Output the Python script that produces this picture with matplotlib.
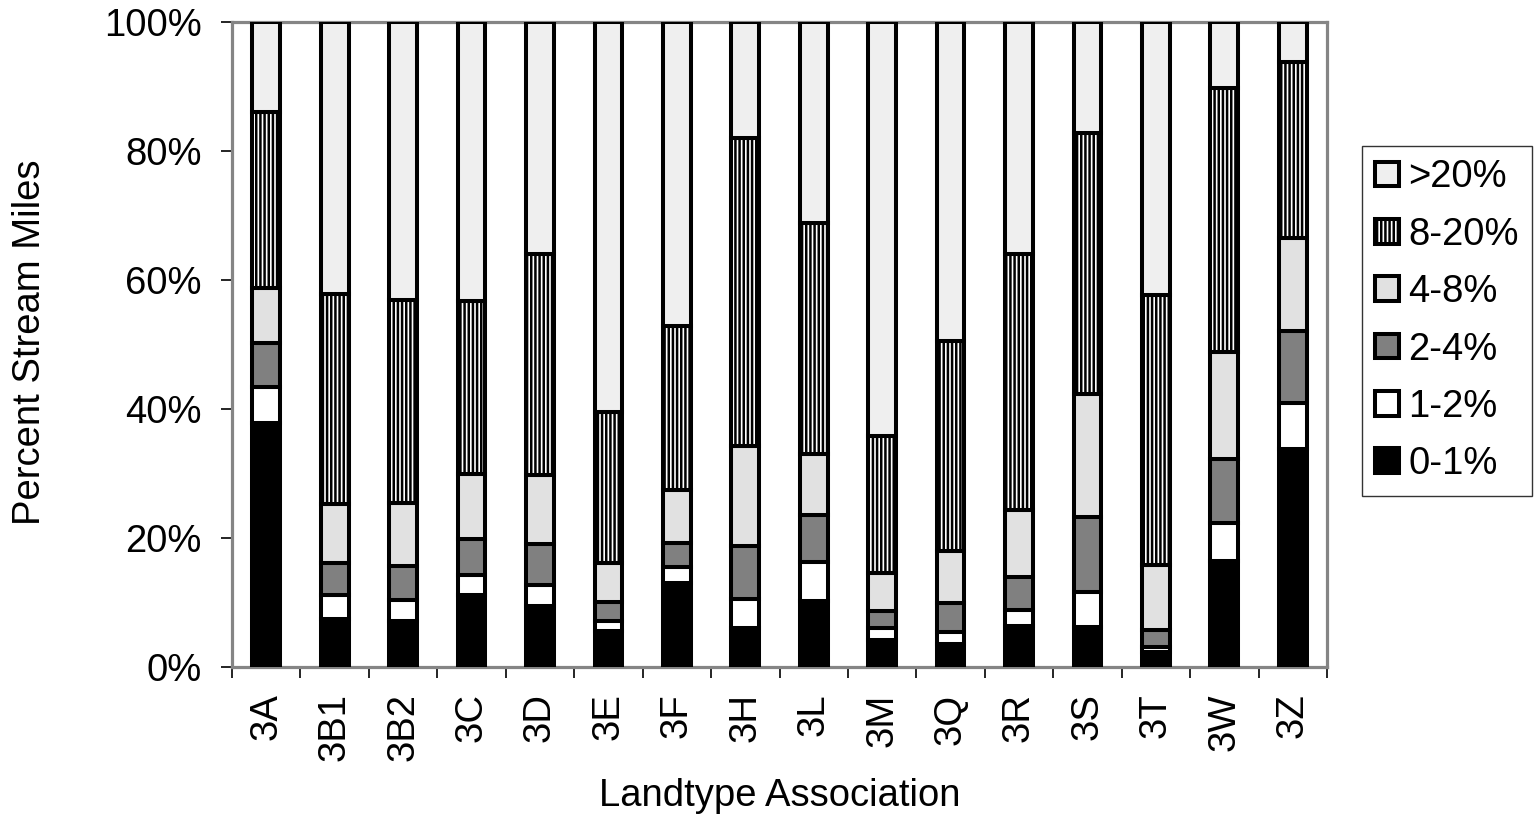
import matplotlib
matplotlib.use("Agg")
import matplotlib.pyplot as plt
import numpy as np

plt.rcParams['font.family'] = ['Liberation Sans', 'DejaVu Sans']
plt.rcParams['hatch.linewidth'] = 1.8

categories = ["3A", "3B1", "3B2", "3C", "3D", "3E", "3F", "3H",
              "3L", "3M", "3Q", "3R", "3S", "3T", "3W", "3Z"]

# percent of stream miles in each gradient class
grad_0_1 = [37.9, 7.4, 7.1, 11.1, 9.4, 5.6, 13.1, 6.0, 10.3, 4.2, 3.6, 6.4, 6.2, 2.3, 16.4, 33.8]
grad_1_2 = [5.5, 3.8, 3.3, 3.2, 3.3, 1.5, 2.4, 4.5, 6.0, 1.8, 1.9, 2.5, 5.5, 0.8, 6.0, 7.1]
grad_2_4 = [6.8, 4.9, 5.3, 5.5, 6.3, 3.0, 3.7, 8.2, 7.2, 2.7, 4.4, 5.0, 11.6, 2.7, 9.8, 11.2]
grad_4_8 = [8.6, 9.2, 9.7, 10.2, 10.8, 6.1, 8.2, 15.6, 9.6, 5.8, 8.1, 10.5, 19.0, 10.0, 16.6, 14.4]
grad_8_20 = [27.2, 32.6, 31.5, 26.7, 34.2, 23.4, 25.5, 47.7, 35.8, 21.3, 32.5, 39.6, 40.5, 41.9, 40.9, 27.3]
grad_gt20 = [14.0, 42.1, 43.1, 43.3, 36.0, 60.4, 47.1, 18.0, 31.1, 64.2, 49.5, 36.0, 17.2, 42.3, 10.3, 6.2]

series = [
    ("0-1%", grad_0_1, dict(facecolor="black")),
    ("1-2%", grad_1_2, dict(facecolor="white")),
    ("2-4%", grad_2_4, dict(facecolor="#808080")),
    ("4-8%", grad_4_8, dict(facecolor="#e1e1e1")),
    ("8-20%", grad_8_20, dict(facecolor="white", hatch="||||")),
    (">20%", grad_gt20, dict(facecolor="#efefef")),
]

FS = 27.5

fig = plt.figure(figsize=(15.35, 8.18), dpi=100)
ax = fig.add_axes([232 / 1535, 1 - 667 / 818, (1327 - 232) / 1535, (667 - 22) / 818])

x = np.arange(len(categories))
bottom = np.zeros(len(categories))
handles = []
for name, vals, style in series:
    vals = np.array(vals)
    bars = ax.bar(x, vals, width=0.405, bottom=bottom, edgecolor="black",
                  linewidth=2.9, label=name, zorder=3, **style)
    handles.append(bars)
    bottom += vals

ax.set_xlim(-0.5, len(categories) - 0.5)
ax.set_ylim(0, 100)

ax.set_yticks(np.arange(0, 101, 20))
ax.set_yticklabels([f"{v}%" for v in range(0, 101, 20)], fontsize=FS)
ax.tick_params(axis="y", direction="out", length=8, width=1.2, color="black", pad=14)

ax.set_xticks(x)
ax.set_xticklabels(categories, rotation=90, fontsize=FS)
ax.set_xticks(np.arange(-0.5, len(categories), 1.0), minor=True)
ax.tick_params(axis="x", which="major", length=0, pad=19)
ax.tick_params(axis="x", which="minor", direction="out", length=8, width=1.2, color="black")

for side in ["top", "right", "left", "bottom"]:
    ax.spines[side].set_color("#858585")
    ax.spines[side].set_linewidth(2.3)

fig.text(779.5 / 1535, 1 - 796 / 818, "Landtype Association", ha="center", va="center", fontsize=FS)
fig.text(30 / 1535, 1 - 342 / 818, "Percent Stream Miles", ha="center", va="center",
         rotation=90, fontsize=FS)

leg = fig.legend(handles[::-1], [s[0] for s in series][::-1], loc="upper left",
                 bbox_to_anchor=(1362 / 1535, 1 - 146 / 818), bbox_transform=fig.transFigure,
                 borderaxespad=0, fontsize=FS, frameon=True, fancybox=False,
                 handlelength=0.62, handleheight=0.62, handletextpad=0.25,
                 labelspacing=0.56, borderpad=0.35)
leg.get_frame().set_edgecolor("black")
leg.get_frame().set_linewidth(1.0)

fig.savefig("out.png", dpi=100)
